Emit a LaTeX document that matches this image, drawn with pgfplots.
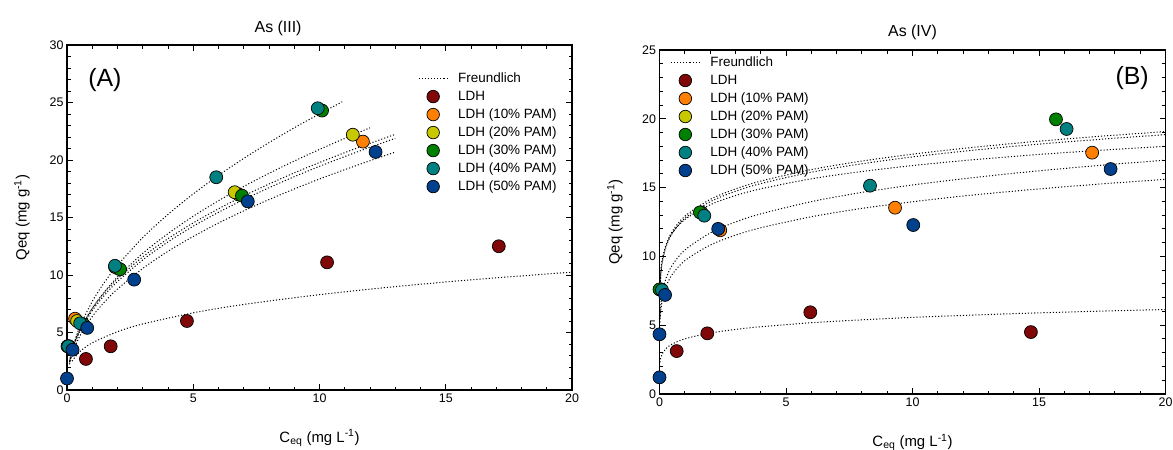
\documentclass[border=0pt]{standalone}
\usepackage{fontspec}
\setmainfont{Liberation Sans}
\usepackage{pgfplots}
\pgfplotsset{compat=1.18}

\definecolor{cLDH}{RGB}{128,8,8}
\definecolor{cOr}{RGB}{255,128,0}
\definecolor{cYe}{RGB}{200,200,0}
\definecolor{cGr}{RGB}{0,128,0}
\definecolor{cTe}{RGB}{0,128,128}
\definecolor{cBl}{RGB}{0,64,140}

\pgfplotsset{
  mk/.style={only marks, mark=*, mark size=6.5pt, mark options={draw=black, fill=#1, line width=0.7pt},
    legend image code/.code={\draw[mark=*, mark size=6.3pt, mark options={draw=black, fill=#1, line width=0.7pt}] plot coordinates {(14.5bp,0bp)};}},
  fr/.style={black, line width=1bp, dash pattern=on 1.1bp off 2bp, smooth, forget plot},
  myax/.style={scale only axis, clip=false, xmin=0, xmax=20, ymin=0,
    tick align=inside, xtick={0,5,10,15,20}, minor x tick num=4, minor y tick num=4,
    major tick length=6bp, minor tick length=3.5bp,
    axis line style={line width=1.1bp}, every tick/.style={black, line width=1bp},
    tick label style={font=\fontsize{12.5}{14}\selectfont},
    /pgf/number format/assume math mode=true,
    label style={font=\fontsize{15}{17}\selectfont},
    title style={font=\fontsize{16}{18}\selectfont},
    legend cell align=left,
    legend style={draw=none, fill=none, inner sep=0pt, font=\fontsize{13.5}{15}\selectfont, row sep=3bp, column sep=9bp, nodes={inner sep=1bp, text height=10bp, text depth=3bp}},
  }
}

\begin{document}
\begin{tikzpicture}
\useasboundingbox (0bp,0bp) rectangle (1173bp,-450bp);

% ---------------- Left: As (III)
\begin{axis}[myax, at={(67bp,-390bp)}, anchor=south west, width=505bp, height=345bp,
  ymax=30, ytick={0,5,10,15,20,25,30},
  title={As (III)}, title style={at={(0.418,1.032)}, anchor=center},
  xlabel={C\textsubscript{eq} (mg L\textsuperscript{-1})},
  ylabel={Qeq (mg g\textsuperscript{-1})},
  xlabel style={at={(0.5,-0.139)}, anchor=center},
  ylabel style={at={(-0.089,0.5)}, anchor=center},
  legend style={at={(0.695,0.925)}, anchor=north west}]
\addlegendimage{legend image code/.code={\draw[black,line width=1bp,dash pattern=on 1.1bp off 2bp] (0bp,0bp) -- (29bp,0bp);}}
\addlegendentry{Freundlich}
\addplot[fr] coordinates {(0.2,2.51)(0.5,3.32)(1,4.10)(2,5.07)(3,5.74)(5,6.71)(7,7.44)(10,8.29)(13,8.99)(16,9.58)(20,10.25)};
\addplot[fr] coordinates {(0.1,2.47)(0.25,3.88)(0.5,5.47)(1,7.70)(1.5,9.41)(2,10.84)(3,13.25)(4,15.27)(5,17.05)(6,18.66)(7,20.14)(8,21.51)(9,22.80)(10,24.01)(10.9,25.06)};
\addplot[fr] coordinates {(0.1,2.40)(0.25,3.70)(0.5,5.12)(1,7.09)(1.5,8.58)(2,9.82)(3,11.88)(4,13.60)(5,15.11)(6,16.46)(7,17.70)(8,18.84)(9,19.91)(10,20.92)(11,21.88)(12,22.80)};
\addplot[fr] coordinates {(0.1,2.55)(0.25,3.83)(0.5,5.22)(1,7.10)(1.5,8.50)(2,9.67)(3,11.58)(4,13.16)(5,14.53)(6,15.76)(7,16.88)(8,17.91)(9,18.88)(10,19.78)(11,20.64)(12,21.45)(13,22.23)};
\addplot[fr] coordinates {(0.1,2.45)(0.25,3.70)(0.5,5.05)(1,6.90)(1.5,8.28)(2,9.43)(3,11.31)(4,12.88)(5,14.24)(6,15.45)(7,16.56)(8,17.59)(9,18.55)(10,19.45)(11,20.30)(12,21.11)(13,21.88)};
\addplot[fr] coordinates {(0.1,2.23)(0.25,3.39)(0.5,4.65)(1,6.39)(1.5,7.69)(2,8.78)(3,10.57)(4,12.06)(5,13.35)(6,14.52)(7,15.58)(8,16.56)(9,17.48)(10,18.35)(11,19.16)(12,19.94)(13,20.69)};

\addplot[mk=cLDH] coordinates {(0.75,2.7)(1.73,3.8)(4.75,6.0)(10.3,11.1)(17.1,12.5)};
\addlegendentry{LDH}
\addplot[mk=cOr] coordinates {(0.02,3.8)(0.32,6.2)(1.9,10.7)(6.8,17.0)(11.72,21.6)};
\addlegendentry{LDH (10\% PAM)}
\addplot[mk=cYe] coordinates {(0.05,3.8)(0.4,6.0)(2.0,10.6)(6.64,17.2)(11.32,22.2)};
\addlegendentry{LDH (20\% PAM)}
\addplot[mk=cGr] coordinates {(0.08,3.8)(0.65,5.7)(2.1,10.5)(6.93,16.9)(10.1,24.3)};
\addlegendentry{LDH (30\% PAM)}
\addplot[mk=cTe] coordinates {(0.05,3.8)(0.52,5.8)(1.9,10.8)(5.91,18.5)(9.93,24.5)};
\addlegendentry{LDH (40\% PAM)}
\addplot[mk=cBl] coordinates {(0,1.0)(0.22,3.5)(0.8,5.4)(2.66,9.6)(7.16,16.4)(12.22,20.7)};
\addlegendentry{LDH (50\% PAM)}
\node[font=\fontsize{25}{28}\selectfont] at (axis cs:1.5,26.96) {(A)};
\end{axis}

% ---------------- Right: As (IV)
\begin{axis}[myax, at={(659.5bp,-394bp)}, anchor=south west, width=506bp, height=344bp,
  ymax=25, ytick={0,5,10,15,20,25},
  title={As (IV)}, title style={at={(0.5,1.035)}, anchor=center},
  xlabel={C\textsubscript{eq} (mg L\textsuperscript{-1})},
  ylabel={Qeq (mg g\textsuperscript{-1})},
  xlabel style={at={(0.5,-0.14)}, anchor=center},
  ylabel style={at={(-0.088,0.5)}, anchor=center},
  legend style={at={(0.021,0.986)}, anchor=north west}]
\addlegendimage{legend image code/.code={\draw[black,line width=1bp,dash pattern=on 1.1bp off 2bp] (0bp,0bp) -- (29bp,0bp);}}
\addlegendentry{Freundlich}
\addplot[fr] coordinates {(0.02,2.30)(0.05,2.62)(0.1,2.89)(0.25,3.29)(0.5,3.63)(1,4.01)(2,4.43)(3,4.69)(4,4.89)(6,5.18)(8,5.39)(10,5.57)(12,5.71)(14,5.84)(16,5.95)(18,6.05)(20,6.14)};
\addplot[fr] coordinates {(0.02,7.77)(0.05,8.75)(0.1,9.58)(0.25,10.79)(0.5,11.81)(1,12.92)(2,14.14)(3,14.90)(4,15.47)(6,16.31)(8,16.93)(10,17.43)(12,17.85)(14,18.21)(16,18.53)(18,18.81)(20,19.07)};
\addplot[fr] coordinates {(0.02,7.68)(0.05,8.65)(0.1,9.47)(0.25,10.66)(0.5,11.67)(1,12.77)(2,13.97)(3,14.73)(4,15.29)(6,16.12)(8,16.73)(10,17.23)(12,17.64)(14,18.00)(16,18.31)(18,18.59)(20,18.85)};
\addplot[fr] coordinates {(0.02,8.02)(0.05,8.93)(0.1,9.69)(0.25,10.78)(0.5,11.69)(1,12.68)(2,13.75)(3,14.42)(4,14.91)(6,15.64)(8,16.17)(10,16.60)(12,16.96)(14,17.27)(16,17.54)(18,17.78)(20,18.00)};
\addplot[fr] coordinates {(0.02,5.55)(0.05,6.44)(0.1,7.20)(0.25,8.36)(0.5,9.35)(1,10.46)(2,11.70)(3,12.50)(4,13.09)(6,13.98)(8,14.65)(10,15.19)(12,15.64)(14,16.04)(16,16.39)(18,16.71)(20,16.99)};
\addplot[fr] coordinates {(0.02,5.20)(0.05,6.02)(0.1,6.72)(0.25,7.77)(0.5,8.68)(1,9.69)(2,10.82)(3,11.54)(4,12.08)(6,12.88)(8,13.49)(10,13.97)(12,14.39)(14,14.74)(16,15.06)(18,15.34)(20,15.60)};

\addplot[mk=cLDH] coordinates {(0.68,3.12)(1.89,4.41)(5.96,5.94)(14.68,4.5)};
\addlegendentry{LDH}
\addplot[mk=cOr] coordinates {(0.05,7.6)(2.4,11.9)(9.31,13.54)(17.1,17.54)};
\addlegendentry{LDH (10\% PAM)}
\addplot[mk=cYe] coordinates {(0.05,7.6)(1.65,13.2)};
\addlegendentry{LDH (20\% PAM)}
\addplot[mk=cGr] coordinates {(0,7.6)(1.6,13.2)(15.67,19.96)};
\addlegendentry{LDH (30\% PAM)}
\addplot[mk=cTe] coordinates {(0.1,7.55)(1.77,12.96)(8.32,15.14)(16.09,19.26)};
\addlegendentry{LDH (40\% PAM)}
\addplot[mk=cBl] coordinates {(0,1.21)(0,4.34)(0.22,7.2)(2.32,12.0)(10.03,12.28)(17.83,16.35)};
\addlegendentry{LDH (50\% PAM)}
\node[font=\fontsize{25}{28}\selectfont] at (axis cs:18.68,22.97) {(B)};
\end{axis}
\end{tikzpicture}
\end{document}
